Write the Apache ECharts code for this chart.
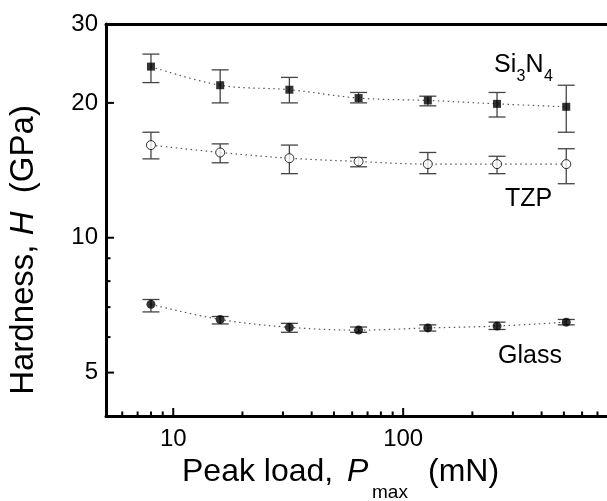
<!DOCTYPE html>
<html>
<head>
<meta charset="UTF-8">
<title>Hardness vs peak load</title>
<style>
  html, body { margin: 0; padding: 0; background: #fff; }
  #main { width: 607px; height: 501px; }
</style>
</head>
<body>
<div id="main"></div>
<script src="https://cdn.jsdelivr.net/npm/echarts@6/dist/echarts.min.js"></script>
<script>
// peak load (mN)
var loads = [8, 16, 32, 64, 128, 256, 512];

// hardness (GPa) with error bar ends
var si3n4 = [24.1, 21.9, 21.4, 20.5, 20.25, 19.9, 19.6];
var si3n4Low = [22.2, 20.0, 20.0, 20.0, 19.7, 18.6, 17.2];
var si3n4High = [25.7, 23.7, 22.8, 21.1, 20.7, 21.1, 21.9];

var tzp = [16.1, 15.5, 15.05, 14.8, 14.6, 14.6, 14.6];
var tzpLow = [15.0, 14.7, 13.9, 14.4, 13.9, 13.9, 13.2];
var tzpHigh = [17.2, 16.2, 16.1, 15.1, 15.5, 15.2, 15.8];

var glass = [7.10, 6.57, 6.31, 6.22, 6.29, 6.35, 6.48];
var glassLow = [6.83, 6.42, 6.15, 6.15, 6.19, 6.24, 6.39];
var glassHigh = [7.28, 6.67, 6.44, 6.32, 6.39, 6.48, 6.57];

// axis ticks
var xMajor = [10, 100];
var xMinor = [6, 7, 8, 9, 20, 30, 40, 50, 60, 70, 80, 90, 200, 300, 400, 500, 600, 700];
var yMajor = [5, 10, 20, 30];
var yMinor = [6, 7, 8, 9];

var X_MIN = 5.1, X_MAX = 770, Y_MIN = 4, Y_MAX = 30;
var FONT = '"Liberation Sans", Arial, Helvetica, sans-serif';

function pairs(ys) {
    return loads.map(function (x, i) { return [x, ys[i]]; });
}
function errData(lo, hi) {
    return loads.map(function (x, i) { return [x, lo[i], hi[i]]; });
}

function errorBarItem(params, api) {
    var x = api.value(0);
    var top = api.coord([x, api.value(2)]);
    var bot = api.coord([x, api.value(1)]);
    var w = 8.5;
    var st = { stroke: '#444', lineWidth: 1.3 };
    return {
        type: 'group',
        children: [
            { type: 'line', shape: { x1: top[0], y1: top[1], x2: bot[0], y2: bot[1] }, style: st },
            { type: 'line', shape: { x1: top[0] - w, y1: top[1], x2: top[0] + w, y2: top[1] }, style: st },
            { type: 'line', shape: { x1: bot[0] - w, y1: bot[1], x2: bot[0] + w, y2: bot[1] }, style: st }
        ]
    };
}

// inward ticks: [x, y, length, dir] where dir 0 = bottom axis, 1 = left axis
var tickData = [];
xMajor.forEach(function (v) { tickData.push([v, Y_MIN, 8, 0]); });
xMinor.forEach(function (v) { tickData.push([v, Y_MIN, 4.5, 0]); });
yMajor.forEach(function (v) { if (v < Y_MAX) tickData.push([X_MIN, v, 8, 1]); });
yMinor.forEach(function (v) { tickData.push([X_MIN, v, 4.5, 1]); });

function tickItem(params, api) {
    var p = api.coord([api.value(0), api.value(1)]);
    var len = api.value(2);
    var shape = api.value(3) === 0
        ? { x1: p[0], y1: p[1], x2: p[0], y2: p[1] - len }
        : { x1: p[0], y1: p[1], x2: p[0] + len, y2: p[1] };
    return { type: 'line', shape: shape, style: { stroke: '#000', lineWidth: 2 } };
}

function fitLine(ys) {
    return {
        type: 'line',
        data: pairs(ys),
        smooth: 0.35,
        showSymbol: false,
        silent: true,
        z: 1,
        lineStyle: { color: '#555', width: 1.2, type: [1.5, 3.5] }
    };
}

function errSeries(lo, hi) {
    return {
        type: 'custom',
        data: errData(lo, hi),
        renderItem: errorBarItem,
        z: 2,
        silent: true
    };
}

var chart = echarts.init(document.getElementById('main'));

var option = {
    animation: false,
    backgroundColor: '#fff',
    textStyle: { fontFamily: FONT },
    grid: { left: 106, right: 0, top: 24, bottom: 85 },
    xAxis: [
        {
            type: 'log', min: X_MIN, max: X_MAX, position: 'bottom',
            splitLine: { show: false },
            axisLine: { lineStyle: { color: '#000', width: 3 } },
            axisTick: { show: false },
            axisLabel: { customValues: xMajor, fontSize: 24, color: '#000', margin: 11, fontFamily: FONT }
        },
        {
            type: 'log', min: X_MIN, max: X_MAX, position: 'top',
            splitLine: { show: false },
            axisLine: { lineStyle: { color: '#000', width: 3 } },
            axisTick: { show: false },
            axisLabel: { show: false }
        }
    ],
    yAxis: [
        {
            type: 'log', min: Y_MIN, max: Y_MAX, position: 'left',
            splitLine: { show: false },
            axisLine: { lineStyle: { color: '#000', width: 3 } },
            axisTick: { show: false },
            axisLabel: { customValues: yMajor, fontSize: 24, color: '#000', margin: 8, fontFamily: FONT }
        }
    ],
    series: [
        {
            type: 'custom', data: tickData, renderItem: tickItem,
            silent: true, z: 5, clip: false
        },
        fitLine(si3n4),
        fitLine(tzp),
        fitLine(glass),
        errSeries(si3n4Low, si3n4High),
        errSeries(tzpLow, tzpHigh),
        errSeries(glassLow, glassHigh),
        {
            name: 'Si3N4', type: 'scatter', data: pairs(si3n4), z: 3,
            symbol: 'rect', symbolSize: 8,
            itemStyle: { color: '#000' }
        },
        {
            name: 'TZP', type: 'scatter', data: pairs(tzp), z: 3,
            symbol: 'circle', symbolSize: 9,
            itemStyle: { color: '#fff', borderColor: '#000', borderWidth: 1 }
        },
        {
            name: 'Glass', type: 'scatter', data: pairs(glass), z: 3,
            symbol: 'circle', symbolSize: 9,
            itemStyle: { color: '#000' }
        }
    ],
    graphic: [
        // y axis title
        {
            type: 'text', x: 24, y: 250, rotation: Math.PI / 2,
            style: {
                text: '{n|Hardness, }{i|H}{n|  (GPa)}',
                align: 'center', verticalAlign: 'middle',
                rich: {
                    n: { fontSize: 33, fontFamily: FONT, fill: '#000' },
                    i: { fontSize: 33, fontFamily: FONT, fontStyle: 'italic', fill: '#000' }
                }
            }
        },
        // x axis title
        { type: 'text', x: 182, y: 472, style: { text: 'Peak load,', font: '32px ' + FONT, fill: '#000', verticalAlign: 'middle' } },
        { type: 'text', x: 347, y: 472, style: { text: 'P', font: 'italic 32px ' + FONT, fill: '#000', verticalAlign: 'middle' } },
        { type: 'text', x: 372, y: 493, style: { text: 'max', font: '19px ' + FONT, fill: '#000', verticalAlign: 'middle' } },
        { type: 'text', x: 428, y: 472, style: { text: '(mN)', font: '32px ' + FONT, fill: '#000', verticalAlign: 'middle' } },
        // series labels
        { type: 'text', x: 494, y: 65, style: { text: 'Si', font: '25px ' + FONT, fill: '#000', verticalAlign: 'middle' } },
        { type: 'text', x: 516.5, y: 77, style: { text: '3', font: '16px ' + FONT, fill: '#000', verticalAlign: 'middle' } },
        { type: 'text', x: 525.5, y: 65, style: { text: 'N', font: '25px ' + FONT, fill: '#000', verticalAlign: 'middle' } },
        { type: 'text', x: 544, y: 77, style: { text: '4', font: '16px ' + FONT, fill: '#000', verticalAlign: 'middle' } },
        { type: 'text', x: 505, y: 199, style: { text: 'TZP', font: '25px ' + FONT, fill: '#000', verticalAlign: 'middle' } },
        { type: 'text', x: 498, y: 356, style: { text: 'Glass', font: '25px ' + FONT, fill: '#000', verticalAlign: 'middle' } }
    ]
};

chart.setOption(option);
</script>
</body>
</html>
